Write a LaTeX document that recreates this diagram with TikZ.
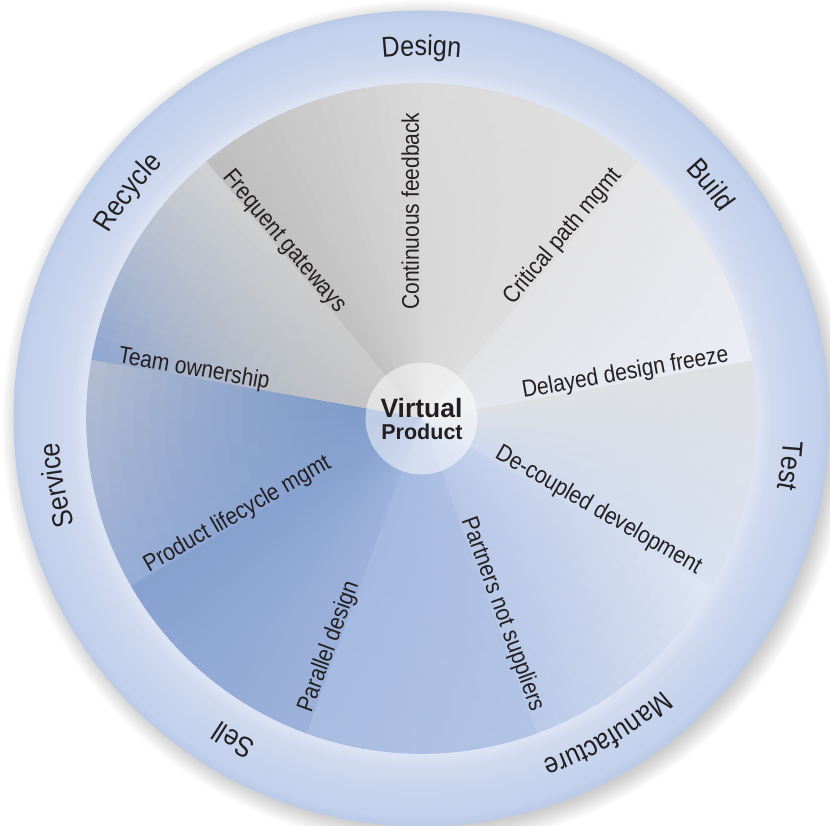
\documentclass[tikz,border=0pt]{standalone}
\usepackage{fontspec}
\setmainfont{Liberation Sans}
\newfontfamily\narrowfam{Liberation Sans}[FakeStretch=0.875]
\usetikzlibrary{calc,decorations.text}

\definecolor{labelink}{HTML}{231F20}
% ring profile, inner edge (A) to outer edge (E)
\definecolor{ringA}{HTML}{DEE5F4}
\definecolor{ringB}{HTML}{D0DAEF}
\definecolor{ringC}{HTML}{C8D5EE}
\definecolor{ringD}{HTML}{C3D1EC}
\definecolor{ringE}{HTML}{BACAE7}
% sector colours: a = clockwise edge inside, b = counter-clockwise edge inside,
% c = clockwise edge at rim, d = counter-clockwise edge at rim
\definecolor{sec0a}{HTML}{B5C6E6}\definecolor{sec0b}{HTML}{C6D2EC}\definecolor{sec0c}{HTML}{B9C9E8}\definecolor{sec0d}{HTML}{E0E6F3}
\definecolor{sec1a}{HTML}{CDD8EE}\definecolor{sec1b}{HTML}{DEE0E4}\definecolor{sec1c}{HTML}{D9E2F2}\definecolor{sec1d}{HTML}{DFE0E3}
\definecolor{sec2a}{HTML}{E4E7EE}\definecolor{sec2b}{HTML}{E2E2E3}\definecolor{sec2c}{HTML}{EAEDF5}\definecolor{sec2d}{HTML}{E5E5E6}
\definecolor{sec3a}{HTML}{DDDDDD}\definecolor{sec3b}{HTML}{D7D7D7}\definecolor{sec3c}{HTML}{E0E0E0}\definecolor{sec3d}{HTML}{DADADA}
\definecolor{sec4a}{HTML}{D5D5D5}\definecolor{sec4b}{HTML}{C0C0C0}\definecolor{sec4c}{HTML}{DADADA}\definecolor{sec4d}{HTML}{BDBDBD}
\definecolor{sec5a}{HTML}{CBCBCB}\definecolor{sec5b}{HTML}{C3C3C5}\definecolor{sec5c}{HTML}{D2D2D2}\definecolor{sec5d}{HTML}{8EA6D0}
\definecolor{sec6a}{HTML}{7E9BCA}\definecolor{sec6b}{HTML}{88A2D0}\definecolor{sec6c}{HTML}{B6BED0}\definecolor{sec6d}{HTML}{96ADD6}
\definecolor{sec7a}{HTML}{86A0CF}\definecolor{sec7b}{HTML}{9DB3DC}\definecolor{sec7c}{HTML}{86A0CF}\definecolor{sec7d}{HTML}{9CB2DB}
\definecolor{sec8a}{HTML}{A4B9E0}\definecolor{sec8b}{HTML}{ADC0E4}\definecolor{sec8c}{HTML}{A8BCE1}\definecolor{sec8d}{HTML}{B2C4E5}

\newcommand{\spokefont}{\narrowfam\fontsize{24pt}{26pt}\selectfont}
\newcommand{\wheelfont}{\narrowfam\fontsize{28.7pt}{30pt}\selectfont}

\tikzset{
  spoke label/.style={font=\spokefont, text=labelink, inner sep=0pt, outer sep=0pt},
  hub label/.style={text=labelink, inner sep=0pt, anchor=base},
}

\begin{document}
\begin{tikzpicture}
\useasboundingbox (-421.5pt,-407.5pt) rectangle (408.5pt,418.5pt);
\clip (-421.5pt,-407.5pt) rectangle (408.5pt,418.5pt);

% soft drop shadow of the wheel
\foreach \n in {0,...,23}{
  \fill[black, opacity=0.012] (4pt,-5pt) circle[radius=396pt+1.2pt*\n];
}

% outer ring, shaded from the rim inwards
\foreach \ra/\rb/\ca/\cb in {408/398/ringE/ringD, 398/372/ringD/ringC, 372/352/ringC/ringB, 352/335/ringB/ringA}{
  \foreach \n in {0,...,9}{
    \pgfmathsetmacro\rr{\ra-(\ra-\rb)*\n/10}
    \pgfmathtruncatemacro\pp{10*\n}
    \colorlet{ringmix}{\cb!\pp!\ca}
    \fill[ringmix] (0,0) circle[radius=\rr pt];
  }
}

% nine shaded sectors of the inner disk
\foreach \s in {0,...,8}{
  \pgfmathsetmacro\aS{-70+40*\s}
  \foreach \j in {0,...,19}{
    \pgfmathsetmacro\aone{\aS+2*\j}
    \pgfmathsetmacro\atwo{\aS+2*\j+2}
    \pgfmathtruncatemacro\tp{round(100*(\j+0.5)/20)}
    \colorlet{cin}{sec\s b!\tp!sec\s a}
    \colorlet{cout}{sec\s d!\tp!sec\s c}
    \foreach \k in {0,...,18}{
      \pgfmathsetmacro\rone{ifthenelse(\k==0,1,56+15.5*(\k-1))}
      \pgfmathsetmacro\rtwo{56+15.5*\k}
      \pgfmathtruncatemacro\sp{round(100*(max(\k-0.5,0.001)/18)^1.5)*(\k>0)}
      \colorlet{cmix}{cout!\sp!cin}
      \fill[cmix, draw=cmix, line width=0.6pt]
        (\aone:\rone pt) arc[start angle=\aone, end angle=\atwo, radius=\rone pt]
        -- (\atwo:\rtwo pt) arc[start angle=\atwo, end angle=\aone, radius=\rtwo pt] -- cycle;
    }
  }
}

% hub
\node[circle, fill=white, fill opacity=0.5, minimum size=112pt, inner sep=0pt] (hub) at (0,0) {};
\node[hub label, font=\bfseries\fontsize{26.5pt}{28pt}\selectfont] (virtual) at (0pt,0.5pt) {Virtual};
\node[hub label, font=\bfseries\fontsize{21.5pt}{23pt}\selectfont] (product) at (0.5pt,-21.5pt) {Product};

% labels along the spokes
\node[spoke label, anchor=base east, rotate=90]  (feedback)  at ($(90:306pt)+(180:2.5pt)$)  {Continuous feedback};
\node[spoke label, anchor=base east, rotate=50]  (critical)  at ($(50:315pt)+(140:2.5pt)$)  {Critical path mgmt};
\node[spoke label, anchor=base east, rotate=10]  (freeze)    at ($(10:313pt)+(100:2.5pt)$)  {Delayed design freeze};
\node[spoke label, anchor=base east, rotate=-30] (decoupled) at ($(-30:316pt)+(60:2.5pt)$)  {De-coupled development};
\node[spoke label, anchor=base east, rotate=-70] (partners)  at ($(-70:314pt)+(20:2.5pt)$)  {Partners not suppliers};
\node[spoke label, anchor=base west, rotate=70]  (parallel)  at ($(250:315pt)+(160:2.5pt)$) {Parallel design};
\node[spoke label, anchor=base west, rotate=30]  (lifecycle) at ($(210:313pt)+(120:2.5pt)$) {Product lifecycle mgmt};
\node[spoke label, anchor=base west, rotate=-10] (ownership) at ($(170:309pt)+(80:2.5pt)$)  {Team ownership};
\node[spoke label, anchor=base west, rotate=-50] (gateways)  at ($(130:313pt)+(40:2.5pt)$)  {Frequent gateways};

% stage names set along the ring, clockwise
\path[decorate, decoration={text along path, text align=center, text={|\wheelfont\color{labelink}|Design}}]
  (130:363pt) arc[start angle=130, end angle=50, radius=363pt];
\path[decorate, decoration={text along path, text align=center, text={|\wheelfont\color{labelink}|Build}}]
  (78.9:363pt) arc[start angle=78.9, end angle=-1.1, radius=363pt];
\path[decorate, decoration={text along path, text align=center, text={|\wheelfont\color{labelink}|Test}}]
  (32.7:363pt) arc[start angle=32.7, end angle=-47.3, radius=363pt];
\path[decorate, decoration={text along path, text align=center, text={|\wheelfont\color{labelink}|Manufacture}}]
  (-19.5:363pt) arc[start angle=-19.5, end angle=-99.5, radius=363pt];
\path[decorate, decoration={text along path, text align=center, text={|\wheelfont\color{labelink}|Sell}}]
  (-80.3:363pt) arc[start angle=-80.3, end angle=-160.3, radius=363pt];
\path[decorate, decoration={text along path, text align=center, text={|\wheelfont\color{labelink}|Service}}]
  (-129.6:363pt) arc[start angle=-129.6, end angle=-209.6, radius=363pt];
\path[decorate, decoration={text along path, text align=center, text={|\wheelfont\color{labelink}|Recycle}}]
  (182.4:363pt) arc[start angle=182.4, end angle=102.4, radius=363pt];
\end{tikzpicture}
\end{document}
